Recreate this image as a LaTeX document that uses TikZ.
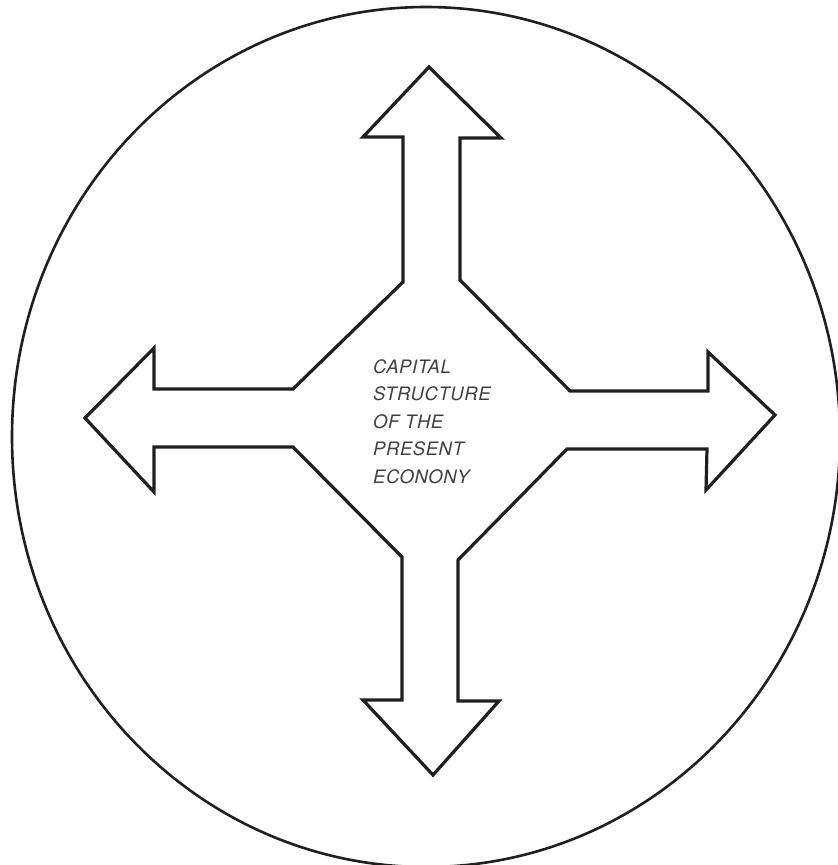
\documentclass[tikz,border=0pt]{standalone}
\usepackage{fontspec}
\setmainfont{TeX Gyre Heros}[LetterSpace=3]
\begin{document}
\begin{tikzpicture}[x=1pt,y=-1pt,
  outline/.style={draw=black!88, line width=3.2pt, line join=miter},
  ring/.style={draw=black!88, line width=2.6pt},
  label/.style={font=\fontsize{18.5}{27.5}\selectfont\itshape, text=black!75, align=left, inner sep=0pt, anchor=base west}]
\useasboundingbox[fill=white] (0,0) rectangle (838,865);
\draw[ring] (426,437) ellipse [x radius=414, y radius=430];
\draw[outline] (429,67) -- (501,138) -- (460,138) -- (460,280)
  -- (570,391) -- (708,391) -- (708,352) -- (775,415) -- (706,490) -- (707,449) -- (567,449)
  -- (458,560) -- (458,701) -- (499,701) -- (433,775) -- (363,700) -- (402,700) -- (402,557)
  -- (293,447) -- (154,447) -- (154,492) -- (85,418) -- (154,348) -- (154,389) -- (293,389)
  -- (403,282) -- (403,137) -- (363,137) -- cycle;
\node[label] (title) at (373,483) {CAPITAL\\STRUCTURE\\OF THE\\PRESENT\\ECONONY};
\end{tikzpicture}
\end{document}
